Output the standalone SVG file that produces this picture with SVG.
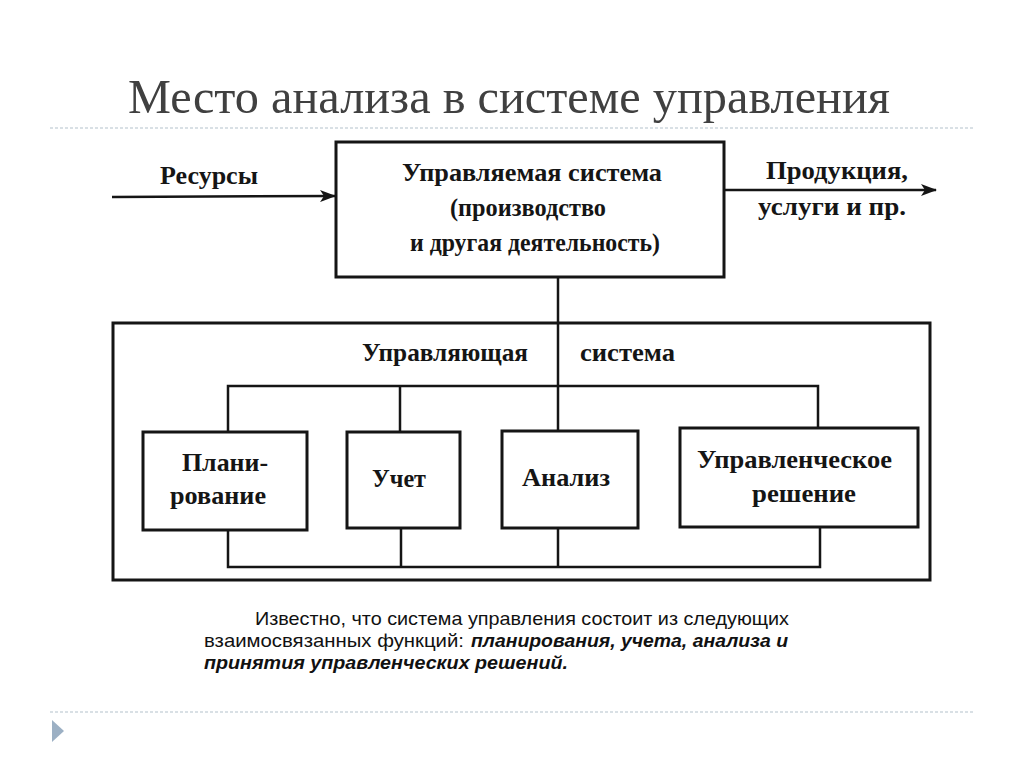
<svg xmlns="http://www.w3.org/2000/svg" width="1024" height="768" viewBox="0 0 1024 768">
<defs>
<style>
.box{fill:#fff;stroke:#151515;stroke-width:3}
.ln{fill:none;stroke:#151515;stroke-width:2.5}
.dt{font-family:"Liberation Serif","DejaVu Serif",serif;font-weight:bold;font-size:25px;fill:#151515}
.tt{font-family:"Liberation Serif","DejaVu Serif",serif;font-size:48px;fill:#404040}
.pn{font-family:"Liberation Sans",Arial,sans-serif;font-size:19px;fill:#111}
.pb{font-family:"Liberation Sans",Arial,sans-serif;font-size:19px;fill:#111;font-weight:bold;font-style:italic}
.sep{stroke:#b4c2cc;stroke-width:1.2;stroke-dasharray:3 2}
</style>
<marker id="ah" viewBox="0 0 16 12" refX="15" refY="6" markerWidth="16" markerHeight="12" markerUnits="userSpaceOnUse" orient="auto">
<path d="M0,0 L16,6 L0,12 L4,6 Z" fill="#151515"/>
</marker>
</defs>
<rect width="1024" height="768" fill="#fff"/>
<g id="title">
<text class="tt" x="128" y="113" textLength="762" lengthAdjust="spacingAndGlyphs">Место анализа в системе управления</text>
<line class="sep" x1="50" y1="128" x2="975" y2="128"/>
</g>
<g id="connectors">
<line class="ln" x1="112" y1="197" x2="335" y2="196" stroke-width="3" marker-end="url(#ah)"/>
<line class="ln" x1="724" y1="190" x2="936" y2="190" stroke-width="3" marker-end="url(#ah)"/>
<line class="ln" x1="558" y1="277" x2="558" y2="431"/>
<polyline class="ln" points="228,432 228,386 818,386 818,428"/>
<line class="ln" x1="400" y1="386" x2="400" y2="432"/>
<polyline class="ln" points="228,530 228,567 820,567 820,527"/>
<line class="ln" x1="401" y1="528" x2="401" y2="567"/>
<line class="ln" x1="558" y1="528" x2="558" y2="567"/>
</g>
<g id="resources">
<text class="dt" x="160" y="184" textLength="98" lengthAdjust="spacingAndGlyphs">Ресурсы</text>
</g>
<g id="products">
<text class="dt" x="766" y="179" textLength="142" lengthAdjust="spacingAndGlyphs">Продукция,</text>
<text class="dt" x="758" y="215" textLength="148" lengthAdjust="spacingAndGlyphs">услуги и пр.</text>
</g>
<g id="managed-system">
<rect class="box" x="336" y="142" width="388" height="135"/>
<text class="dt" x="402" y="181" textLength="260" lengthAdjust="spacingAndGlyphs">Управляемая система</text>
<text class="dt" x="450" y="216" textLength="156" lengthAdjust="spacingAndGlyphs" font-weight="normal">(производство</text>
<text class="dt" x="410" y="251" textLength="250" lengthAdjust="spacingAndGlyphs" font-weight="normal">и другая деятельность)</text>
</g>
<g id="control-system">
<rect class="box" x="113" y="323" width="817" height="257" style="fill:none"/>
<text class="dt" x="362" y="361" textLength="166" lengthAdjust="spacingAndGlyphs">Управляющая</text>
<text class="dt" x="580" y="361" textLength="95" lengthAdjust="spacingAndGlyphs">система</text>
</g>
<g id="planning">
<rect class="box" x="143" y="432" width="164" height="98"/>
<text class="dt" x="182" y="471" textLength="86" lengthAdjust="spacingAndGlyphs">Плани-</text>
<text class="dt" x="170" y="504" textLength="96" lengthAdjust="spacingAndGlyphs">рование</text>
</g>
<g id="accounting">
<rect class="box" x="347" y="432" width="113" height="96"/>
<text class="dt" x="372" y="487" textLength="54" lengthAdjust="spacingAndGlyphs">Учет</text>
</g>
<g id="analysis">
<rect class="box" x="502" y="431" width="136" height="97"/>
<text class="dt" x="522" y="486" textLength="88" lengthAdjust="spacingAndGlyphs">Анализ</text>
</g>
<g id="decision">
<rect class="box" x="680" y="428" width="238" height="99"/>
<text class="dt" x="697" y="468" textLength="195" lengthAdjust="spacingAndGlyphs">Управленческое</text>
<text class="dt" x="752" y="502" textLength="104" lengthAdjust="spacingAndGlyphs">решение</text>
</g>
<g id="note">
<text class="pn" x="255" y="625" textLength="534" lengthAdjust="spacingAndGlyphs">Известно, что система управления состоит из следующих</text>
<text class="pn" x="204" y="647" textLength="260" lengthAdjust="spacingAndGlyphs">взаимосвязанных функций:</text>
<text class="pb" x="471" y="647" textLength="317" lengthAdjust="spacingAndGlyphs">планирования, учета, анализа и</text>
<text class="pb" x="204" y="669" textLength="364" lengthAdjust="spacingAndGlyphs">принятия управленческих решений.</text>
</g>
<g id="footer">
<line class="sep" x1="50" y1="712" x2="975" y2="712"/>
<polygon points="52,720 64,731 52,742" fill="#9cb0c4"/>
</g>
</svg>
